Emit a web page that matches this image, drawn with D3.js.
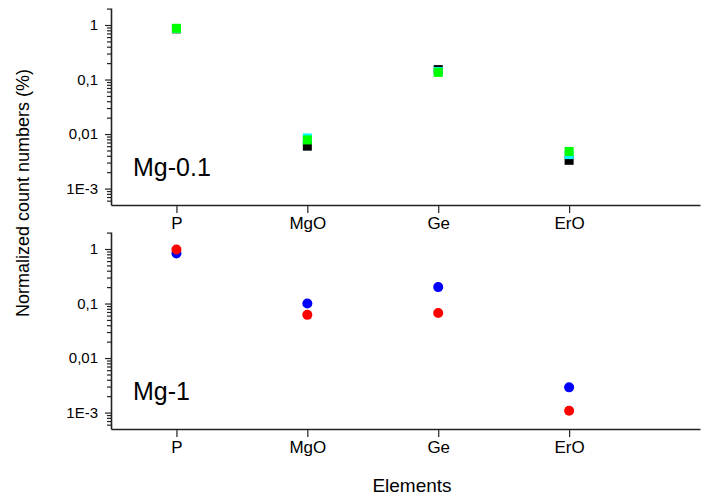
<!DOCTYPE html>
<html>
<head>
<meta charset="utf-8">
<script src="https://cdn.jsdelivr.net/npm/d3@7"></script>
<style>
  body { margin: 0; background: #fff; }
  text { font-family: "Liberation Sans", Arial, sans-serif; }
</style>
</head>
<body>
<svg width="701" height="497"></svg>
<script>
var width = 701;
var height = 497;

// categories along x
var categories = ["P", "MgO", "Ge", "ErO"];
// Mg-0.1 panel (square markers)
var mg01Black = [0.85, 0.006, 0.152, 0.0033];
var mg01Cyan  = [0.86, 0.0085, 0.14, 0.0042];
var mg01Green = [0.87, 0.0078, 0.135, 0.0048];
// Mg-1 panel (circle markers)
var mg1Blue = [0.83, 0.1, 0.2, 0.0029];
var mg1Red  = [0.98, 0.062, 0.067, 0.00108];
// y tick labels
var yTicks = [1, 0.1, 0.01, 0.001];
var yTickLabels = ["1", "0,1", "0,01", "1E-3"];

var svg = d3.select("svg");

var xScale = d3.scaleLinear()
    .domain([0.5, 5.0])
    .range([111, 700]);

// minor ticks 2..9 per decade
var minorTicks = [];
[-4, -3, -2, -1, 0].forEach(function(e) {
    for (var k = 2; k <= 9; k++) {
        var v = k * Math.pow(10, e);
        if (v > 5e-4 && v < 2.05) minorTicks.push(v);
    }
});

function drawPanel(top, bottom, series, shape, label) {
    var yScale = d3.scaleLog()
        .domain([5e-4, 2.05])
        .range([bottom, top]);

    var g = svg.append("g");

    // minor y ticks
    g.append("g")
        .attr("transform", "translate(111,0)")
        .call(d3.axisLeft(yScale).tickValues(minorTicks).tickFormat("").tickSize(4).tickSizeOuter(0))
        .call(function(a) { a.select(".domain").remove(); });

    var yAxis = g.append("g")
        .attr("transform", "translate(111,0)")
        .call(d3.axisLeft(yScale)
            .tickValues(yTicks)
            .tickFormat(function(d, i) { return yTickLabels[i]; })
            .tickSize(6)
            .tickSizeOuter(0));
    yAxis.selectAll("text").style("font-size", "15px").attr("x", -13);

    var xAxis = g.append("g")
        .attr("transform", "translate(0," + bottom + ")")
        .call(d3.axisBottom(xScale)
            .tickValues([1, 2, 3, 4])
            .tickFormat(function(d) { return categories[d - 1]; })
            .tickSize(8)
            .tickSizeOuter(0));
    xAxis.selectAll("text").style("font-size", "17px").attr("y", 12);

    g.selectAll(".domain").attr("stroke", "#222").attr("stroke-width", 1.6);
    g.selectAll(".tick line").attr("stroke", "#222").attr("stroke-width", 1.2);

    series.forEach(function(s) {
        var sel = g.append("g").selectAll("*")
            .data(s.values)
            .enter();
        if (shape === "square") {
            sel.append("rect")
                .attr("x", function(d, i) { return xScale(i + 1) - 4.5; })
                .attr("y", function(d) { return yScale(d) - 4.5; })
                .attr("width", 9)
                .attr("height", 9)
                .attr("fill", s.color);
        } else {
            sel.append("circle")
                .attr("cx", function(d, i) { return xScale(i + 1); })
                .attr("cy", function(d) { return yScale(d); })
                .attr("r", 5)
                .attr("fill", s.color);
        }
    });

    g.append("text")
        .attr("x", 133)
        .attr("y", bottom - 29)
        .style("font-size", "25px")
        .text(label);
}

drawPanel(8, 205, [
    { values: mg01Black, color: "#000000" },
    { values: mg01Cyan, color: "#00ffff" },
    { values: mg01Green, color: "#00ff00" }
], "square", "Mg-0.1");

drawPanel(232, 429, [
    { values: mg1Blue, color: "#0000ff" },
    { values: mg1Red, color: "#ff0000" }
], "circle", "Mg-1");

svg.append("text")
    .attr("transform", "rotate(-90)")
    .attr("x", -193)
    .attr("y", 29)
    .style("text-anchor", "middle")
    .style("font-size", "18px")
    .text("Normalized count numbers (%)");

svg.append("text")
    .attr("x", 412)
    .attr("y", 492)
    .style("text-anchor", "middle")
    .style("font-size", "19px")
    .text("Elements");
</script>
</body>
</html>
